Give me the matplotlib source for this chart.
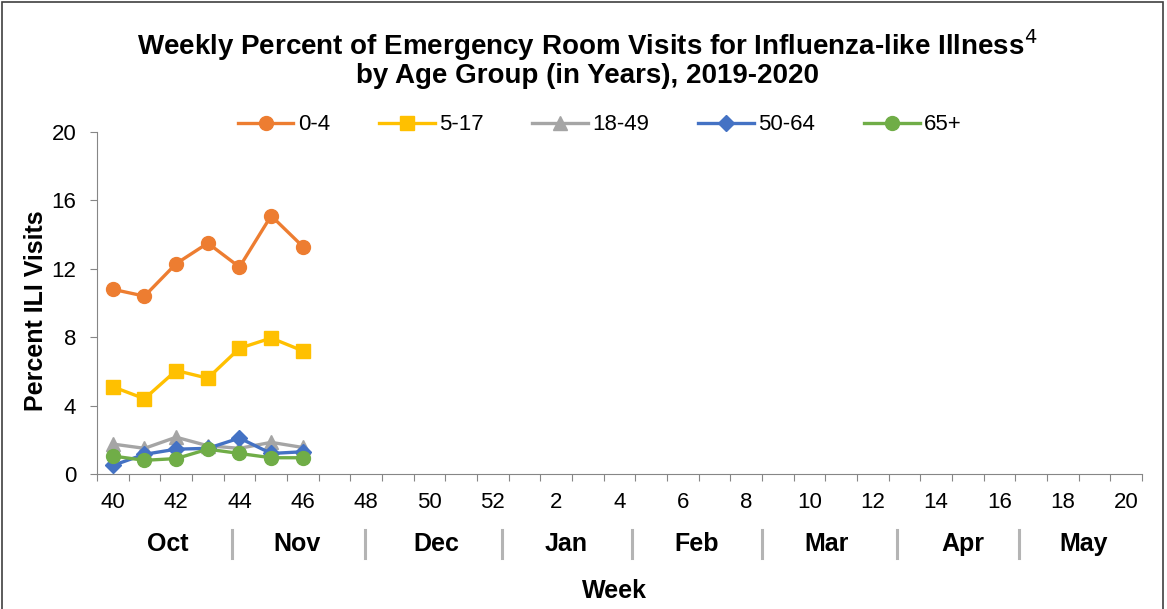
import matplotlib

matplotlib.use("Agg")
import matplotlib.pyplot as plt
from matplotlib.patches import Rectangle
from matplotlib.transforms import blended_transform_factory

plt.rcParams["font.family"] = ["Liberation Sans", "DejaVu Sans"]

# weeks of the season (category axis)
weeks = list(range(40, 53)) + list(range(1, 21))
months = ["Oct", "Nov", "Dec", "Jan", "Feb", "Mar", "Apr", "May"]

age_groups = ["0-4", "5-17", "18-49", "50-64", "65+"]
ili_0_4 = [10.8, 10.4, 12.3, 13.5, 12.1, 15.1, 13.3]
ili_5_17 = [5.1, 4.4, 6.05, 5.6, 7.35, 7.95, 7.2]
ili_18_49 = [1.75, 1.5, 2.15, 1.65, 1.5, 1.85, 1.55]
ili_50_64 = [0.5, 1.15, 1.45, 1.5, 2.1, 1.2, 1.3]
ili_65 = [1.05, 0.8, 0.9, 1.45, 1.2, 0.95, 0.95]

# layout of the month row (category index units)
month_centres = [1.74, 5.81, 10.23, 14.3, 18.44, 22.55, 26.84, 30.66]
month_separators = [3.76, 7.96, 12.28, 16.39, 20.5, 24.76, 28.6]

series = [ili_0_4, ili_5_17, ili_18_49, ili_50_64, ili_65]
colors = ["#ED7D31", "#FFC000", "#A5A5A5", "#4472C4", "#70AD47"]
markers = ["o", "s", "^", "D", "o"]
msizes = [10, 9.5, 9.5, 8, 10]

fig = plt.figure(figsize=(11.67, 6.09), dpi=100)
ax = fig.add_axes([0.0831, 0.2217, 0.8955, 0.5616])

for vals, name, c, m, ms in zip(series, age_groups, colors, markers, msizes):
    x = list(range(len(vals)))
    ax.plot(x, vals, color=c, marker=m, markersize=ms, linewidth=2.4, label=name)

ax.set_xlim(-0.5, len(weeks) - 0.5)
ax.set_ylim(0, 20)
ax.set_yticks(range(0, 21, 4))
ax.tick_params(axis="y", labelsize=16, length=5, color="#868686", direction="out", pad=10)

# category ticks sit between the weeks, labels every other week
ax.set_xticks([i - 0.5 for i in range(len(weeks) + 1)])
ax.set_xticklabels([])
ax.tick_params(axis="x", length=5, color="#868686", direction="out")
for i, w in enumerate(weeks):
    if i % 2 == 0:
        ax.text(i, -0.052, str(w), transform=blended_transform_factory(ax.transData, ax.transAxes),
                ha="center", va="top", fontsize=16)

for side in ["top", "right"]:
    ax.spines[side].set_visible(False)
for side in ["left", "bottom"]:
    ax.spines[side].set_color("#868686")

trans = blended_transform_factory(ax.transData, fig.transFigure)
for pos, name in zip(month_centres, months):
    ax.text(pos, 1 - 544 / 609, name, transform=trans, ha="center", va="center",
            fontsize=18, fontweight="bold")
for pos in month_separators:
    ax.plot([pos, pos], [1 - 530 / 609, 1 - 558 / 609], transform=trans, color="#B4B4B4",
            linewidth=2.2, clip_on=False)

fig.text(0.5262, 1 - 591 / 609, "Week", ha="center", va="center", fontsize=18, fontweight="bold")
fig.text(0.031, 0.49, "Percent ILI Visits", rotation=90, ha="center", va="center",
         fontsize=18, fontweight="bold")

fig.text(0.503, 1 - 45 / 609, "Weekly Percent of Emergency Room Visits for Influenza-like Illness$^{\\mathrm{4}}$",
         ha="center", va="center", fontsize=20, fontweight="bold")
fig.text(0.503, 1 - 76 / 609, "by Age Group (in Years), 2019-2020",
         ha="center", va="center", fontsize=20, fontweight="bold")

fig.legend(loc="center", bbox_to_anchor=(0.514, 1 - 125 / 609), ncol=5, frameon=False,
           fontsize=16, handlelength=2.5, columnspacing=2.2, handletextpad=0.2)

fig.patches.append(Rectangle((0.002, -0.01), 0.995, 1.006, transform=fig.transFigure,
                             fill=False, edgecolor="#404040", linewidth=1.2))

fig.savefig("out.png", dpi=100)
